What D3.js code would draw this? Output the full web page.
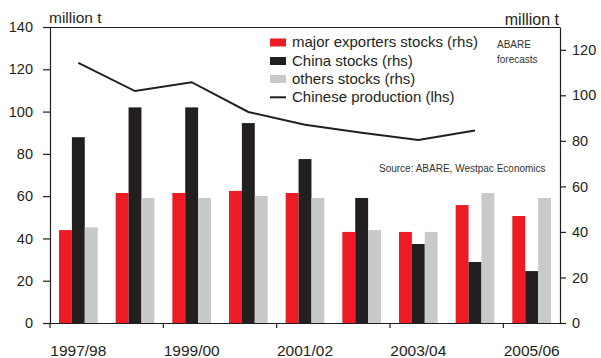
<!DOCTYPE html>
<html><head><meta charset="utf-8">
<script src="https://cdn.jsdelivr.net/npm/d3@7"></script>
<style>
html,body{margin:0;padding:0;background:#fff;}
svg{display:block;font-family:"Liberation Sans",Arial,sans-serif;}
</style></head>
<body>
<svg id="chart" width="601" height="358"></svg>
<script>
const categories = ["1997/98","1998/99","1999/00","2000/01","2001/02","2002/03","2003/04","2004/05","2005/06"];
const xTickLabels = ["1997/98","1999/00","2001/02","2003/04","2005/06"];
const seriesNames = ["major exporters stocks (rhs)","China stocks (rhs)","others stocks (rhs)"];
const majorExporters = [40.8, 57.1, 57.1, 58.0, 57.1, 40.0, 40.0, 51.8, 47.0];
const chinaStocks    = [81.6, 94.7, 94.7, 87.8, 72.0, 54.9, 34.7, 26.8, 22.8];
const othersStocks   = [42.0, 54.9, 54.9, 55.8, 54.9, 40.8, 40.0, 57.1, 54.9];
const lineName = "Chinese production (lhs)";
const chineseProduction = [123.0, 109.7, 113.9, 99.8, 93.8, 90.0, 86.6, 91.0];
const leftTicks = [0,20,40,60,80,100,120,140];
const rightTicks = [0,20,40,60,80,100,120];
const colors = ["#ed1c24","#231f20","#c8c9cb"];
const ink = "#231f20";

const svg = d3.select("#chart");
const L = 50, R = 560, T = 27, B = 323;

const x = d3.scaleBand().domain(categories).range([L, R]).padding(0);
const inner = d3.scaleBand().domain(seriesNames).range([9, x.bandwidth() - 9]).padding(0);
const yL = d3.scaleLinear().domain([0,140]).range([B, T]);
const yR = d3.scaleLinear().domain([0,130]).range([B, T]);

// bars
const seriesData = [majorExporters, chinaStocks, othersStocks];
seriesData.forEach((vals, si) => {
  svg.append("g").selectAll("rect").data(vals).join("rect")
    .attr("x", (d,i) => x(categories[i]) + inner(seriesNames[si]))
    .attr("width", inner.bandwidth())
    .attr("y", d => yR(d))
    .attr("height", d => yR(0) - yR(d))
    .attr("fill", colors[si]);
});

// line
const line = d3.line()
  .x((d,i) => x(categories[i]) + x.bandwidth()/2)
  .y(d => yL(d));
svg.append("path").datum(chineseProduction)
  .attr("d", line).attr("fill","none").attr("stroke", ink).attr("stroke-width", 2);

// frame: top line
svg.append("line").attr("x1", L).attr("x2", R).attr("y1", T+0.5).attr("y2", T+0.5)
  .attr("stroke", ink).attr("stroke-width", 1.2);

// left axis
const gL = svg.append("g").attr("transform", `translate(${L},0)`)
  .call(d3.axisLeft(yL).tickValues(leftTicks).tickSize(7).tickPadding(10).tickSizeOuter(0));
// right axis
const gR = svg.append("g").attr("transform", `translate(${R},0)`)
  .call(d3.axisRight(yR).tickValues(rightTicks).tickSize(6).tickPadding(6).tickSizeOuter(0));
[gL, gR].forEach(g => {
  g.select(".domain").attr("stroke", ink).attr("stroke-width", 1.2);
  g.selectAll(".tick line").attr("stroke", ink).attr("stroke-width", 1.2);
  g.selectAll(".tick text").attr("fill", ink).style("font-size","14.5px")
    .style("font-family",'"Liberation Sans",Arial,sans-serif');
});

// bottom axis
const gB = svg.append("g").attr("transform", `translate(0,${B})`)
  .call(d3.axisBottom(x).tickValues(xTickLabels).tickSize(0).tickPadding(21.5).tickSizeOuter(0));
gB.select(".domain").attr("stroke", ink).attr("stroke-width", 1.2);
gB.selectAll(".tick text").attr("fill", ink).style("font-size","15.5px")
  .style("font-family",'"Liberation Sans",Arial,sans-serif');
gB.selectAll(".xmark").data(xTickLabels).join("line").attr("class","xmark")
  .attr("x1", d => x(d)).attr("x2", d => x(d))
  .attr("y1", 0).attr("y2", 5).attr("stroke", ink).attr("stroke-width", 1.2);

// unit labels
svg.append("text").attr("x", 49).attr("y", 22.5).attr("fill", ink)
  .style("font-size","15.5px").text("million t");
svg.append("text").attr("x", 559).attr("y", 25).attr("text-anchor","end").attr("fill", ink)
  .style("font-size","16px").text("million t");

// legend
const lg = svg.append("g");
const rowY = [42.5, 61, 79, 97.3];
seriesNames.forEach((n, i) => {
  lg.append("rect").attr("x", 270).attr("y", rowY[i]-4).attr("width", 16).attr("height", 8).attr("fill", colors[i]);
  lg.append("text").attr("x", 292).attr("y", rowY[i]+4.7).attr("fill", ink).style("font-size","15px").text(n);
});
lg.append("line").attr("x1", 270).attr("x2", 286).attr("y1", rowY[3]).attr("y2", rowY[3]).attr("stroke", ink).attr("stroke-width", 2);
lg.append("text").attr("x", 292).attr("y", rowY[3]+4.7).attr("fill", ink).style("font-size","15px").text(lineName);

// notes
svg.append("text").attr("x", 497).attr("y", 48).attr("fill", "#333").style("font-size","10px").text("ABARE");
svg.append("text").attr("x", 497).attr("y", 62.5).attr("fill", "#333").style("font-size","10px").text("forecasts");
svg.append("text").attr("x", 379).attr("y", 171.5).attr("fill", "#333").style("font-size","10px").text("Source: ABARE, Westpac Economics");
</script>
</body></html>
